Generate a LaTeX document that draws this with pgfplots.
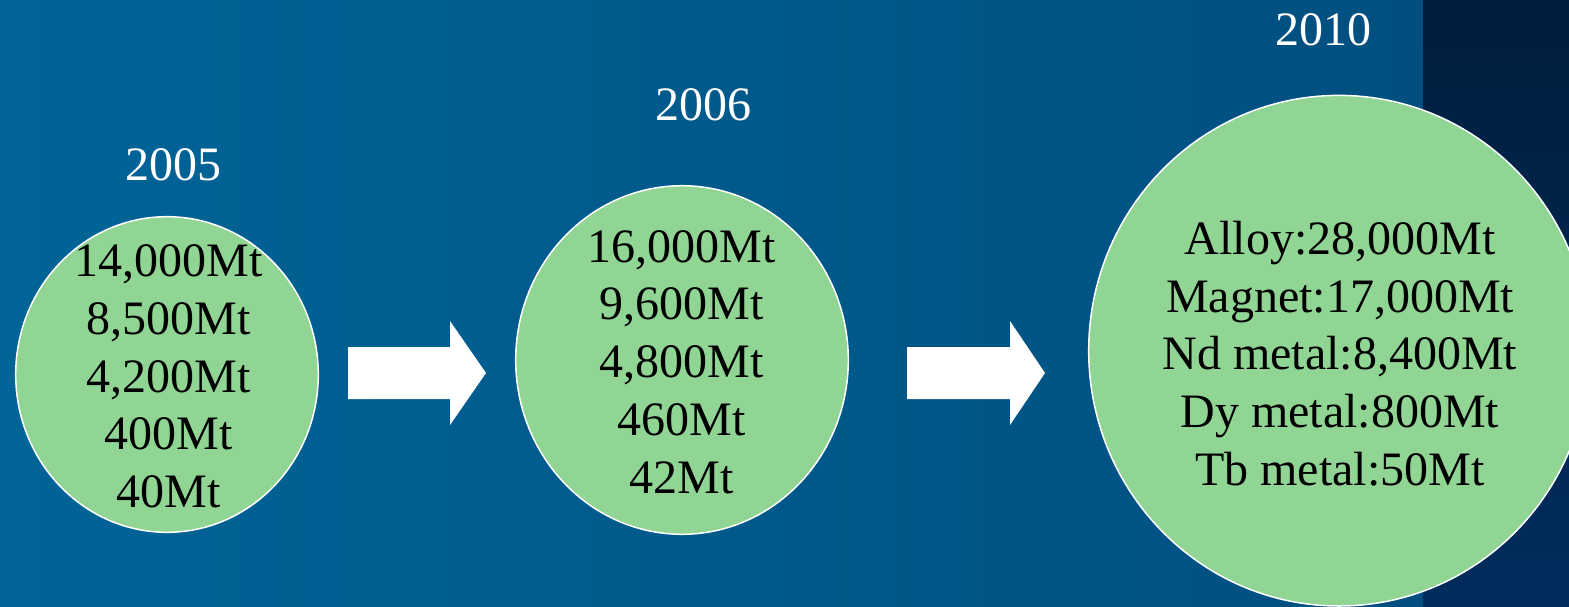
\documentclass[border=0pt]{standalone}
\usepackage{pgfplots}
\pgfplotsset{compat=1.18}
\usepackage{fontspec}
\setmainfont{Liberation Serif}
\definecolor{bgL}{HTML}{006497}
\definecolor{bgR}{HTML}{004F80}
\definecolor{bandT}{HTML}{001E3E}
\definecolor{bandB}{HTML}{002C5C}
\definecolor{cgreen}{HTML}{90D594}
\begin{document}
\begin{tikzpicture}
\begin{axis}[
  width=1569pt, height=607pt, scale only axis,
  xmin=0, xmax=1569, ymin=0, ymax=607, y dir=reverse,
  axis lines=none, ticks=none,
  clip=true, clip marker paths=true,
]
% background
\addplot[draw=none, left color=bgL, right color=bgR] coordinates {(0,0) (1423,0) (1423,607) (0,607)} -- cycle;
\addplot[draw=none, top color=bandT, bottom color=bandB] coordinates {(1423,0) (1569,0) (1569,607) (1423,607)} -- cycle;
% bubbles
\addplot[only marks, mark=*, mark size=151.3pt, mark options={fill=cgreen, draw=white, line width=1.5pt, yscale=1.043}] coordinates {(167,374.5)};
\addplot[only marks, mark=*, mark size=166.3pt, mark options={fill=cgreen, draw=white, line width=1.5pt, yscale=1.048}] coordinates {(682,360)};
\addplot[only marks, mark=*, mark size=250.3pt, mark options={fill=cgreen, draw=white, line width=1.5pt, yscale=1.02}] coordinates {(1339,350.7)};
% arrows
\addplot[draw=none, fill=white] coordinates {(348,347) (450,347) (450,321) (486,373) (450,425) (450,399) (348,399)} -- cycle;
\addplot[draw=none, fill=white] coordinates {(907,347) (1010,347) (1010,321) (1045,373) (1010,425) (1010,399) (907,399)} -- cycle;
% circle texts
\addplot[only marks, mark=none, nodes near coords, point meta=explicit symbolic,
  nodes near coords align={center},
  every node near coord/.append style={anchor=center, align=center, inner sep=0pt, text=black, font=\fontsize{48}{57.75}\selectfont}]
  coordinates {
  (168.5,376.5) [{14,000Mt\\8,500Mt\\4,200Mt\\400Mt\\40Mt}]
  (682,362) [{16,000Mt\\9,600Mt\\4,800Mt\\460Mt\\42Mt}]
  (1340,353.5) [{Alloy:28,000Mt\\Magnet:17,000Mt\\Nd metal:8,400Mt\\Dy metal:800Mt\\Tb metal:50Mt}]
  };
% year labels
\addplot[only marks, mark=none, nodes near coords, point meta=explicit symbolic,
  nodes near coords align={center},
  every node near coord/.append style={anchor=center, inner sep=0pt, text=white, font=\fontsize{48}{57}\selectfont}]
  coordinates {
  (173,165) [2005]
  (703,105) [2006]
  (1323,29.7) [2010]
  };
\end{axis}
\pgfresetboundingbox
\path[use as bounding box] (current axis.south west) rectangle (current axis.north east);
\end{tikzpicture}
\end{document}
